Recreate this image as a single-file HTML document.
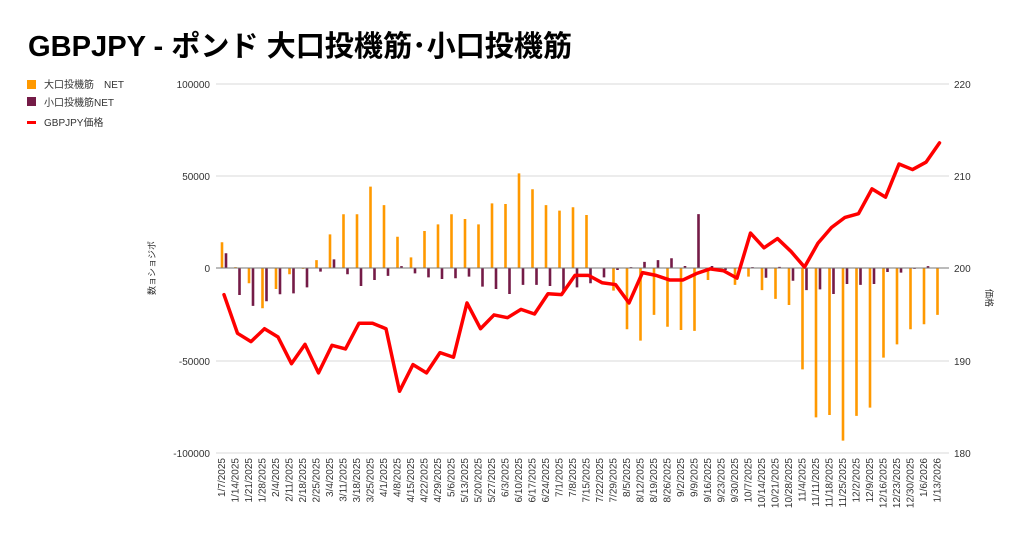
<!DOCTYPE html>
<html><head><meta charset="utf-8"><style>
body{margin:0;background:#fff;}
svg{display:block;font-family:"Liberation Sans","Noto Sans CJK JP",sans-serif;}
</style></head><body>
<svg width="1024" height="536" viewBox="0 0 1024 536" xmlns="http://www.w3.org/2000/svg">
<rect width="1024" height="536" fill="#fff"/>
<text x="28" y="56" font-size="29" font-weight="bold" fill="#000" textLength="544" lengthAdjust="spacingAndGlyphs">GBPJPY - ポンド 大口投機筋･小口投機筋</text>
<rect x="27" y="80" width="9" height="9" fill="#ff9900"/>
<text x="44" y="88" font-size="10" fill="#333">大口投機筋　NET</text>
<rect x="27" y="97" width="9" height="9" fill="#741b47"/>
<text x="44" y="106" font-size="10" fill="#333">小口投機筋NET</text>
<rect x="27" y="121" width="9" height="3" fill="#ff0000"/>
<text x="44" y="126" font-size="10" fill="#333">GBPJPY価格</text>
<g stroke="#d9d9d9" stroke-width="1">
<line x1="216" y1="84" x2="949" y2="84"/><line x1="216" y1="176" x2="949" y2="176"/>
<line x1="216" y1="361" x2="949" y2="361"/><line x1="216" y1="453" x2="949" y2="453"/>
</g>
<g font-size="10" fill="#333" text-anchor="end">
<text x="210" y="88">100000</text><text x="210" y="180">50000</text><text x="210" y="272">0</text>
<text x="210" y="365">-50000</text><text x="210" y="457">-100000</text>
</g>
<g font-size="10" fill="#333">
<text x="954" y="88">220</text><text x="954" y="180">210</text><text x="954" y="272">200</text>
<text x="954" y="365">190</text><text x="954" y="457">180</text>
</g>
<text transform="translate(155,268) rotate(-90)" font-size="9" text-anchor="middle" fill="#333">数ョショジポ</text>
<text transform="translate(986,298) rotate(90)" font-size="9" text-anchor="middle" fill="#333">価格</text>
<g transform="translate(222,268) scale(13.5,-1.84)" stroke="#ff9900" stroke-width="2.6">
<path vector-effect="non-scaling-stroke" d="M0 0V14M1 0V0.5M2 0V-8.3M3 0V-21.9M4 0V-11.4M5 0V-3.4M6 0V-0.5M7 0V4.3M8 0V18.3M9 0V29.2M10 0V29.2M11 0V44.2M12 0V34.2M13 0V17M14 0V5.8M15 0V20.1M16 0V23.7M17 0V29.2M18 0V26.6M19 0V23.7M20 0V35.1M21 0V34.8M22 0V51.4M23 0V42.8M24 0V34.2M25 0V31.2M26 0V33M27 0V28.8M28 0V0.3M29 0V-12.3M30 0V-33.3M31 0V-39.5M32 0V-25.5M33 0V-31.9M34 0V-33.7M35 0V-34.2M36 0V-6.5M37 0V-0.5M38 0V-9.2M39 0V-4.7M40 0V-12M41 0V-16.8M42 0V-20.1M43 0V-55.1M44 0V-81.2M45 0V-79.9M46 0V-93.8M47 0V-80.4M48 0V-75.9M49 0V-48.7M50 0V-41.5M51 0V-33.3M52 0V-30.6M53 0V-25.5"/>
</g>
<g transform="translate(226,268) scale(13.5,-1.84)" stroke="#741b47" stroke-width="2.6">
<path vector-effect="non-scaling-stroke" d="M0 0V8M1 0V-14.7M2 0V-20.6M3 0V-18.1M4 0V-14.3M5 0V-13.8M6 0V-10.5M7 0V-2M8 0V4.7M9 0V-3.4M10 0V-9.8M11 0V-6.5M12 0V-4.3M13 0V1M14 0V-2.9M15 0V-5.1M16 0V-6M17 0V-5.6M18 0V-4.7M19 0V-10.1M20 0V-11.4M21 0V-14.1M22 0V-9.2M23 0V-9.2M24 0V-9.8M25 0V-12.3M26 0V-10.5M27 0V-8.3M28 0V-5.1M29 0V-1.1M30 0V0.5M31 0V3.3M32 0V4.3M33 0V5.3M34 0V1.1M35 0V29.3M36 0V1.1M37 0V-1.1M38 0V0.3M39 0V0.5M40 0V-5.3M41 0V0.6M42 0V-6.9M43 0V-12M44 0V-11.6M45 0V-14.1M46 0V-8.7M47 0V-9.2M48 0V-8.7M49 0V-2.2M50 0V-2.5M51 0V-0.5M52 0V1"/>
</g>
<line x1="216" y1="268" x2="949" y2="268" stroke="#777" stroke-width="1"/>
<g transform="translate(224,268) scale(13.5,-9.2)">
<polyline vector-effect="non-scaling-stroke" fill="none" stroke="#ff0000" stroke-width="3.5" stroke-linejoin="round" stroke-linecap="round" points="0,-2.9 1,-7.1 2,-8 3,-6.6 4,-7.5 5,-10.4 6,-8.3 7,-11.4 8,-8.4 9,-8.8 10,-6 11,-6 12,-6.6 13,-13.4 14,-10.5 15,-11.4 16,-9.2 17,-9.7 18,-3.8 19,-6.6 20,-5.1 21,-5.4 22,-4.5 23,-5 24,-2.8 25,-2.9 26,-0.8 27,-0.8 28,-1.6 29,-1.8 30,-3.8 31,-0.5 32,-0.8 33,-1.3 34,-1.3 35,-0.6 36,-0.1 37,-0.3 38,-1.1 39,3.8 40,2.2 41,3.2 42,1.8 43,0.1 44,2.7 45,4.4 46,5.5 47,5.9 48,8.6 49,7.7 50,11.3 51,10.7 52,11.5 53,13.6"/>
</g>
<g font-size="10" fill="#333" text-anchor="end">
<text transform="translate(225,458) rotate(-90)">1/7/2025</text>
<text transform="translate(238.5,458) rotate(-90)">1/14/2025</text>
<text transform="translate(252,458) rotate(-90)">1/21/2025</text>
<text transform="translate(265.5,458) rotate(-90)">1/28/2025</text>
<text transform="translate(279,458) rotate(-90)">2/4/2025</text>
<text transform="translate(292.5,458) rotate(-90)">2/11/2025</text>
<text transform="translate(306,458) rotate(-90)">2/18/2025</text>
<text transform="translate(319.5,458) rotate(-90)">2/25/2025</text>
<text transform="translate(333,458) rotate(-90)">3/4/2025</text>
<text transform="translate(346.5,458) rotate(-90)">3/11/2025</text>
<text transform="translate(360,458) rotate(-90)">3/18/2025</text>
<text transform="translate(373.5,458) rotate(-90)">3/25/2025</text>
<text transform="translate(387,458) rotate(-90)">4/1/2025</text>
<text transform="translate(400.5,458) rotate(-90)">4/8/2025</text>
<text transform="translate(414,458) rotate(-90)">4/15/2025</text>
<text transform="translate(427.5,458) rotate(-90)">4/22/2025</text>
<text transform="translate(441,458) rotate(-90)">4/29/2025</text>
<text transform="translate(454.5,458) rotate(-90)">5/6/2025</text>
<text transform="translate(468,458) rotate(-90)">5/13/2025</text>
<text transform="translate(481.5,458) rotate(-90)">5/20/2025</text>
<text transform="translate(495,458) rotate(-90)">5/27/2025</text>
<text transform="translate(508.5,458) rotate(-90)">6/3/2025</text>
<text transform="translate(522,458) rotate(-90)">6/10/2025</text>
<text transform="translate(535.5,458) rotate(-90)">6/17/2025</text>
<text transform="translate(549,458) rotate(-90)">6/24/2025</text>
<text transform="translate(562.5,458) rotate(-90)">7/1/2025</text>
<text transform="translate(576,458) rotate(-90)">7/8/2025</text>
<text transform="translate(589.5,458) rotate(-90)">7/15/2025</text>
<text transform="translate(603,458) rotate(-90)">7/22/2025</text>
<text transform="translate(616.5,458) rotate(-90)">7/29/2025</text>
<text transform="translate(630,458) rotate(-90)">8/5/2025</text>
<text transform="translate(643.5,458) rotate(-90)">8/12/2025</text>
<text transform="translate(657,458) rotate(-90)">8/19/2025</text>
<text transform="translate(670.5,458) rotate(-90)">8/26/2025</text>
<text transform="translate(684,458) rotate(-90)">9/2/2025</text>
<text transform="translate(697.5,458) rotate(-90)">9/9/2025</text>
<text transform="translate(711,458) rotate(-90)">9/16/2025</text>
<text transform="translate(724.5,458) rotate(-90)">9/23/2025</text>
<text transform="translate(738,458) rotate(-90)">9/30/2025</text>
<text transform="translate(751.5,458) rotate(-90)">10/7/2025</text>
<text transform="translate(765,458) rotate(-90)">10/14/2025</text>
<text transform="translate(778.5,458) rotate(-90)">10/21/2025</text>
<text transform="translate(792,458) rotate(-90)">10/28/2025</text>
<text transform="translate(805.5,458) rotate(-90)">11/4/2025</text>
<text transform="translate(819,458) rotate(-90)">11/11/2025</text>
<text transform="translate(832.5,458) rotate(-90)">11/18/2025</text>
<text transform="translate(846,458) rotate(-90)">11/25/2025</text>
<text transform="translate(859.5,458) rotate(-90)">12/2/2025</text>
<text transform="translate(873,458) rotate(-90)">12/9/2025</text>
<text transform="translate(886.5,458) rotate(-90)">12/16/2025</text>
<text transform="translate(900,458) rotate(-90)">12/23/2025</text>
<text transform="translate(913.5,458) rotate(-90)">12/30/2025</text>
<text transform="translate(927,458) rotate(-90)">1/6/2026</text>
<text transform="translate(940.5,458) rotate(-90)">1/13/2026</text>
</g>
</svg>
</body></html>
